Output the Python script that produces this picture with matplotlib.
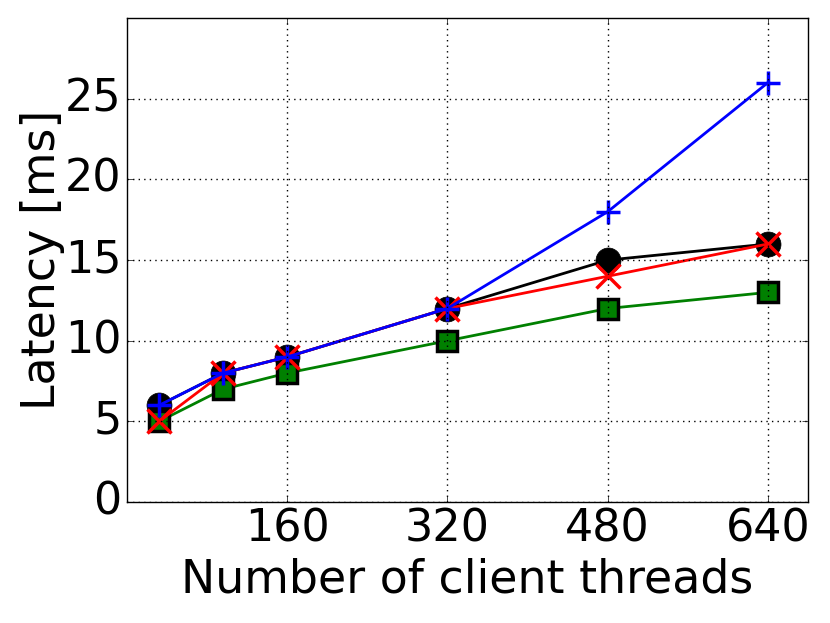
import matplotlib
matplotlib.use("Agg")
import matplotlib.pyplot as plt

plt.style.use("classic")

threads = [32, 96, 160, 320, 480, 640]
lat_circle = [6, 8, 9, 12, 15, 16]
lat_square = [5, 7, 8, 10, 12, 13]
lat_x = [5, 8, 9, 12, 14, 16]
lat_plus = [6, 8, 9, 12, 18, 26]

xticks = [160, 320, 480, 640]
yticks = [0, 5, 10, 15, 20, 25]

fig = plt.figure(figsize=(8.3, 6.23), dpi=100)
fig.patch.set_facecolor("white")
fig.subplots_adjust(left=0.153, right=0.9735, top=0.971, bottom=0.194)
ax = plt.subplot(111)

ax.plot(threads, lat_circle, color="k", lw=2, marker="o", ms=18, mec="k")
ax.plot(threads, lat_square, color="g", lw=2, marker="s", ms=15, mec="k", mew=2.5)
ax.plot(threads, lat_x, color="r", lw=2, marker="x", ms=17, mew=2.5, mec="r")
ax.plot(threads, lat_plus, color="b", lw=2, marker="+", ms=17, mew=2.5, mec="b")

ax.set_xlim(0, 680)
ax.set_ylim(0, 30)
ax.set_xticks(xticks)
ax.set_yticks(yticks)
ax.tick_params(labelsize=32)
ax.grid(True, color="k", linestyle=":", linewidth=1)
ax.set_xlabel("Number of client threads", fontsize=33)
ax.set_ylabel("Latency [ms]", fontsize=33, labelpad=0)

plt.savefig("out.png", dpi=100, facecolor="white")
